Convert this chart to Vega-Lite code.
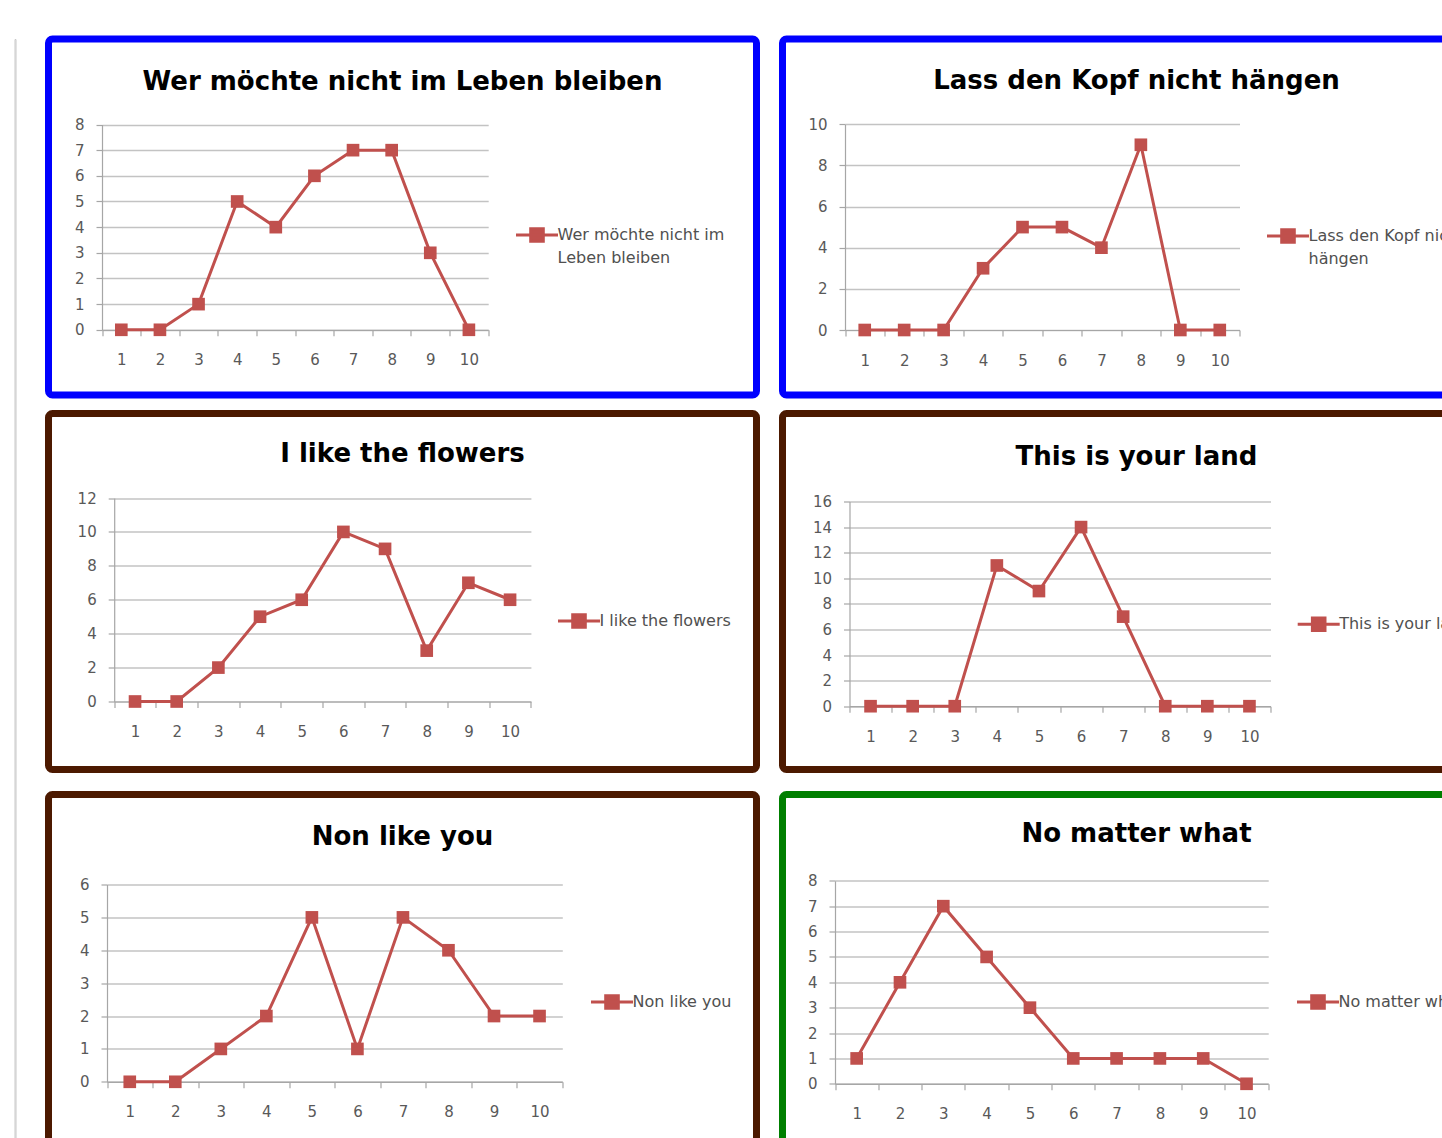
{
  "$schema": "https://vega.github.io/schema/vega-lite/v6.json",
  "background": "white",
  "padding": {"left": 13.5, "top": 35, "right": 0, "bottom": 0},
  "config": {
    "font": "DejaVu Sans",
    "view": {"cornerRadius": 4, "fill": "white"},
    "style": {"guide-label": {"lineHeight": 23}},
    "axis": {
      "title": null,
      "labelFont": "DejaVu Sans",
      "labelFontSize": 15,
      "labelColor": "#595959",
      "domainColor": "#A6A6A6",
      "domainWidth": 1.2,
      "tickColor": "#A6A6A6",
      "tickWidth": 1.2,
      "tickSize": 6,
      "gridColor": "#C3C3C3",
      "gridWidth": 1.3
    },
    "axisX": {"grid": false, "labelAngle": 0, "tickBand": "extent", "labelPadding": 17},
    "axisY": {"grid": true, "labelPadding": 12},
    "title": {
      "font": "DejaVu Sans",
      "fontSize": 26,
      "fontWeight": "bold",
      "color": "#000000",
      "anchor": "middle",
      "frame": "group",
      "baseline": "middle"
    },
    "legend": {
      "title": null,
      "orient": "none",
      "padding": 0,
      "labelFont": "DejaVu Sans",
      "labelFontSize": 16,
      "labelColor": "#505050",
      "labelOffset": -2,
      "labelLimit": 400,
      "symbolType": "M-1,0H1M-0.3,-0.3H0.3V0.3H-0.3Z",
      "symbolSize": 1764,
      "symbolStrokeWidth": 3,
      "symbolFillColor": "#C0504D",
      "symbolStrokeColor": "#C0504D"
    },
    "line": {"strokeWidth": 3}
  },
  "resolve": {"scale": {"color": "independent"}, "legend": {"color": "independent"}},
  "spacing": 28,
  "hconcat": [
    {
      "width": 1,
      "height": 1110,
      "view": {"stroke": "#C8C8C8", "strokeWidth": 1, "cornerRadius": 0},
      "data": {"values": [{}]},
      "mark": {"type": "rule", "opacity": 0},
      "encoding": {}
    },
    {
      "spacing": 10.5,
      "resolve": {"scale": {"color": "independent"}, "legend": {"color": "independent"}},
      "vconcat": [
        {
          "spacing": 18,
          "resolve": {"scale": {"color": "independent"}, "legend": {"color": "independent"}},
          "hconcat": [
            {
              "width": 708, "height": 356,
              "view": {"stroke": "#0000FF", "strokeWidth": 7},
              "title": {"text": "Wer möchte nicht im Leben bleiben", "offset": -55.5},
              "data": {"values": [
                {"song": "Wer möchte nicht im Leben bleiben", "n": 1, "votes": 0},
                {"song": "Wer möchte nicht im Leben bleiben", "n": 2, "votes": 0},
                {"song": "Wer möchte nicht im Leben bleiben", "n": 3, "votes": 1},
                {"song": "Wer möchte nicht im Leben bleiben", "n": 4, "votes": 5},
                {"song": "Wer möchte nicht im Leben bleiben", "n": 5, "votes": 4},
                {"song": "Wer möchte nicht im Leben bleiben", "n": 6, "votes": 6},
                {"song": "Wer möchte nicht im Leben bleiben", "n": 7, "votes": 7},
                {"song": "Wer möchte nicht im Leben bleiben", "n": 8, "votes": 7},
                {"song": "Wer möchte nicht im Leben bleiben", "n": 9, "votes": 3},
                {"song": "Wer möchte nicht im Leben bleiben", "n": 10, "votes": 0}
              ]},
              "mark": {"type": "line", "point": {"shape": "square", "size": 160, "filled": true, "opacity": 1}},
              "encoding": {
                "x": {"field": "n", "type": "ordinal", "scale": {"type": "band", "range": [53.5, 439.7], "paddingInner": 0, "paddingOuter": 0}, "axis": {"offset": -65.2}},
                "y": {"field": "votes", "type": "quantitative", "scale": {"domain": [0, 8], "range": [290.8, 85.5], "nice": false}, "axis": {"offset": -53.5, "values": [0, 1, 2, 3, 4, 5, 6, 7, 8]}},
                "color": {"field": "song", "type": "nominal", "scale": {"range": ["#C0504D"]},
                  "legend": {"legendX": 466, "legendY": 173.5, "labelExpr": "['Wer möchte nicht im', 'Leben bleiben']", "encode": {"symbols": {"update": {"fill": {"value": "#C0504D"}, "stroke": {"value": "#C0504D"}, "opacity": {"value": 1}}}, "labels": {"update": {"lineHeight": {"value": 23}}}}}}
              }
            },
            {
              "width": 708, "height": 356,
              "view": {"stroke": "#0000FF", "strokeWidth": 7},
              "title": {"text": "Lass den Kopf nicht hängen", "offset": -54.5},
              "data": {"values": [
                {"song": "Lass den Kopf nicht hängen", "n": 1, "votes": 0},
                {"song": "Lass den Kopf nicht hängen", "n": 2, "votes": 0},
                {"song": "Lass den Kopf nicht hängen", "n": 3, "votes": 0},
                {"song": "Lass den Kopf nicht hängen", "n": 4, "votes": 3},
                {"song": "Lass den Kopf nicht hängen", "n": 5, "votes": 5},
                {"song": "Lass den Kopf nicht hängen", "n": 6, "votes": 5},
                {"song": "Lass den Kopf nicht hängen", "n": 7, "votes": 4},
                {"song": "Lass den Kopf nicht hängen", "n": 8, "votes": 9},
                {"song": "Lass den Kopf nicht hängen", "n": 9, "votes": 0},
                {"song": "Lass den Kopf nicht hängen", "n": 10, "votes": 0}
              ]},
              "mark": {"type": "line", "point": {"shape": "square", "size": 160, "filled": true, "opacity": 1}},
              "encoding": {
                "x": {"field": "n", "type": "ordinal", "scale": {"type": "band", "range": [62.5, 457], "paddingInner": 0, "paddingOuter": 0}, "axis": {"offset": -65}},
                "y": {"field": "votes", "type": "quantitative", "scale": {"domain": [0, 10], "range": [291, 85.2], "nice": false}, "axis": {"offset": -62.5, "values": [0, 2, 4, 6, 8, 10]}},
                "color": {"field": "song", "type": "nominal", "scale": {"range": ["#C0504D"]},
                  "legend": {"legendX": 483, "legendY": 174.5, "labelExpr": "['Lass den Kopf nicht', 'hängen']", "encode": {"symbols": {"update": {"fill": {"value": "#C0504D"}, "stroke": {"value": "#C0504D"}, "opacity": {"value": 1}}}, "labels": {"update": {"lineHeight": {"value": 23}}}}}}
              }
            }
          ]
        },
        {
          "spacing": 17,
          "resolve": {"scale": {"color": "independent"}, "legend": {"color": "independent"}},
          "vconcat": [
            {
              "spacing": 18,
              "resolve": {"scale": {"color": "independent"}, "legend": {"color": "independent"}},
              "hconcat": [
                {
                  "width": 708, "height": 356,
                  "view": {"stroke": "#4C1900", "strokeWidth": 7},
                  "title": {"text": "I like the flowers", "offset": -53},
                  "data": {"values": [
                    {"song": "I like the flowers", "n": 1, "votes": 0},
                    {"song": "I like the flowers", "n": 2, "votes": 0},
                    {"song": "I like the flowers", "n": 3, "votes": 2},
                    {"song": "I like the flowers", "n": 4, "votes": 5},
                    {"song": "I like the flowers", "n": 5, "votes": 6},
                    {"song": "I like the flowers", "n": 6, "votes": 10},
                    {"song": "I like the flowers", "n": 7, "votes": 9},
                    {"song": "I like the flowers", "n": 8, "votes": 3},
                    {"song": "I like the flowers", "n": 9, "votes": 7},
                    {"song": "I like the flowers", "n": 10, "votes": 6}
                  ]},
                  "mark": {"type": "line", "point": {"shape": "square", "size": 160, "filled": true, "opacity": 1}},
                  "encoding": {
                    "x": {"field": "n", "type": "ordinal", "scale": {"type": "band", "range": [65.7, 482.4], "paddingInner": 0, "paddingOuter": 0}, "axis": {"offset": -68}},
                    "y": {"field": "votes", "type": "quantitative", "scale": {"domain": [0, 12], "range": [288, 84.5], "nice": false}, "axis": {"offset": -65.7, "values": [0, 2, 4, 6, 8, 10, 12]}},
                    "color": {"field": "song", "type": "nominal", "scale": {"range": ["#C0504D"]},
                      "legend": {"legendX": 508, "legendY": 185, "encode": {"symbols": {"update": {"fill": {"value": "#C0504D"}, "stroke": {"value": "#C0504D"}, "opacity": {"value": 1}}}}}}
                  }
                },
                {
                  "width": 708, "height": 356,
                  "view": {"stroke": "#4C1900", "strokeWidth": 7},
                  "title": {"text": "This is your land", "offset": -56},
                  "data": {"values": [
                    {"song": "This is your land", "n": 1, "votes": 0},
                    {"song": "This is your land", "n": 2, "votes": 0},
                    {"song": "This is your land", "n": 3, "votes": 0},
                    {"song": "This is your land", "n": 4, "votes": 11},
                    {"song": "This is your land", "n": 5, "votes": 9},
                    {"song": "This is your land", "n": 6, "votes": 14},
                    {"song": "This is your land", "n": 7, "votes": 7},
                    {"song": "This is your land", "n": 8, "votes": 0},
                    {"song": "This is your land", "n": 9, "votes": 0},
                    {"song": "This is your land", "n": 10, "votes": 0}
                  ]},
                  "mark": {"type": "line", "point": {"shape": "square", "size": 160, "filled": true, "opacity": 1}},
                  "encoding": {
                    "x": {"field": "n", "type": "ordinal", "scale": {"type": "band", "range": [67, 488], "paddingInner": 0, "paddingOuter": 0}, "axis": {"offset": -63.3}},
                    "y": {"field": "votes", "type": "quantitative", "scale": {"domain": [0, 16], "range": [292.7, 88], "nice": false}, "axis": {"offset": -67, "values": [0, 2, 4, 6, 8, 10, 12, 14, 16]}},
                    "color": {"field": "song", "type": "nominal", "scale": {"range": ["#C0504D"]},
                      "legend": {"legendX": 513.7, "legendY": 188.3, "encode": {"symbols": {"update": {"fill": {"value": "#C0504D"}, "stroke": {"value": "#C0504D"}, "opacity": {"value": 1}}}}}}
                  }
                }
              ]
            },
            {
              "spacing": 18,
              "resolve": {"scale": {"color": "independent"}, "legend": {"color": "independent"}},
              "hconcat": [
                {
                  "width": 708, "height": 356,
                  "view": {"stroke": "#4C1900", "strokeWidth": 7},
                  "title": {"text": "Non like you", "offset": -55},
                  "data": {"values": [
                    {"song": "Non like you", "n": 1, "votes": 0},
                    {"song": "Non like you", "n": 2, "votes": 0},
                    {"song": "Non like you", "n": 3, "votes": 1},
                    {"song": "Non like you", "n": 4, "votes": 2},
                    {"song": "Non like you", "n": 5, "votes": 5},
                    {"song": "Non like you", "n": 6, "votes": 1},
                    {"song": "Non like you", "n": 7, "votes": 5},
                    {"song": "Non like you", "n": 8, "votes": 4},
                    {"song": "Non like you", "n": 9, "votes": 2},
                    {"song": "Non like you", "n": 10, "votes": 2}
                  ]},
                  "mark": {"type": "line", "point": {"shape": "square", "size": 160, "filled": true, "opacity": 1}},
                  "encoding": {
                    "x": {"field": "n", "type": "ordinal", "scale": {"type": "band", "range": [58.5, 513.8], "paddingInner": 0, "paddingOuter": 0}, "axis": {"offset": -68.7}},
                    "y": {"field": "votes", "type": "quantitative", "scale": {"domain": [0, 6], "range": [287.3, 90], "nice": false}, "axis": {"offset": -58.5, "values": [0, 1, 2, 3, 4, 5, 6]}},
                    "color": {"field": "song", "type": "nominal", "scale": {"range": ["#C0504D"]},
                      "legend": {"legendX": 541, "legendY": 185, "encode": {"symbols": {"update": {"fill": {"value": "#C0504D"}, "stroke": {"value": "#C0504D"}, "opacity": {"value": 1}}}}}}
                  }
                },
                {
                  "width": 708, "height": 356,
                  "view": {"stroke": "#007F00", "strokeWidth": 7},
                  "title": {"text": "No matter what", "offset": -52},
                  "data": {"values": [
                    {"song": "No matter what", "n": 1, "votes": 1},
                    {"song": "No matter what", "n": 2, "votes": 4},
                    {"song": "No matter what", "n": 3, "votes": 7},
                    {"song": "No matter what", "n": 4, "votes": 5},
                    {"song": "No matter what", "n": 5, "votes": 3},
                    {"song": "No matter what", "n": 6, "votes": 1},
                    {"song": "No matter what", "n": 7, "votes": 1},
                    {"song": "No matter what", "n": 8, "votes": 1},
                    {"song": "No matter what", "n": 9, "votes": 1},
                    {"song": "No matter what", "n": 10, "votes": 0}
                  ]},
                  "mark": {"type": "line", "point": {"shape": "square", "size": 160, "filled": true, "opacity": 1}},
                  "encoding": {
                    "x": {"field": "n", "type": "ordinal", "scale": {"type": "band", "range": [52.5, 485.7], "paddingInner": 0, "paddingOuter": 0}, "axis": {"offset": -66.7}},
                    "y": {"field": "votes", "type": "quantitative", "scale": {"domain": [0, 8], "range": [289.3, 86.3], "nice": false}, "axis": {"offset": -52.5, "values": [0, 1, 2, 3, 4, 5, 6, 7, 8]}},
                    "color": {"field": "song", "type": "nominal", "scale": {"range": ["#C0504D"]},
                      "legend": {"legendX": 513, "legendY": 185, "encode": {"symbols": {"update": {"fill": {"value": "#C0504D"}, "stroke": {"value": "#C0504D"}, "opacity": {"value": 1}}}}}}
                  }
                }
              ]
            }
          ]
        }
      ]
    }
  ]
}
